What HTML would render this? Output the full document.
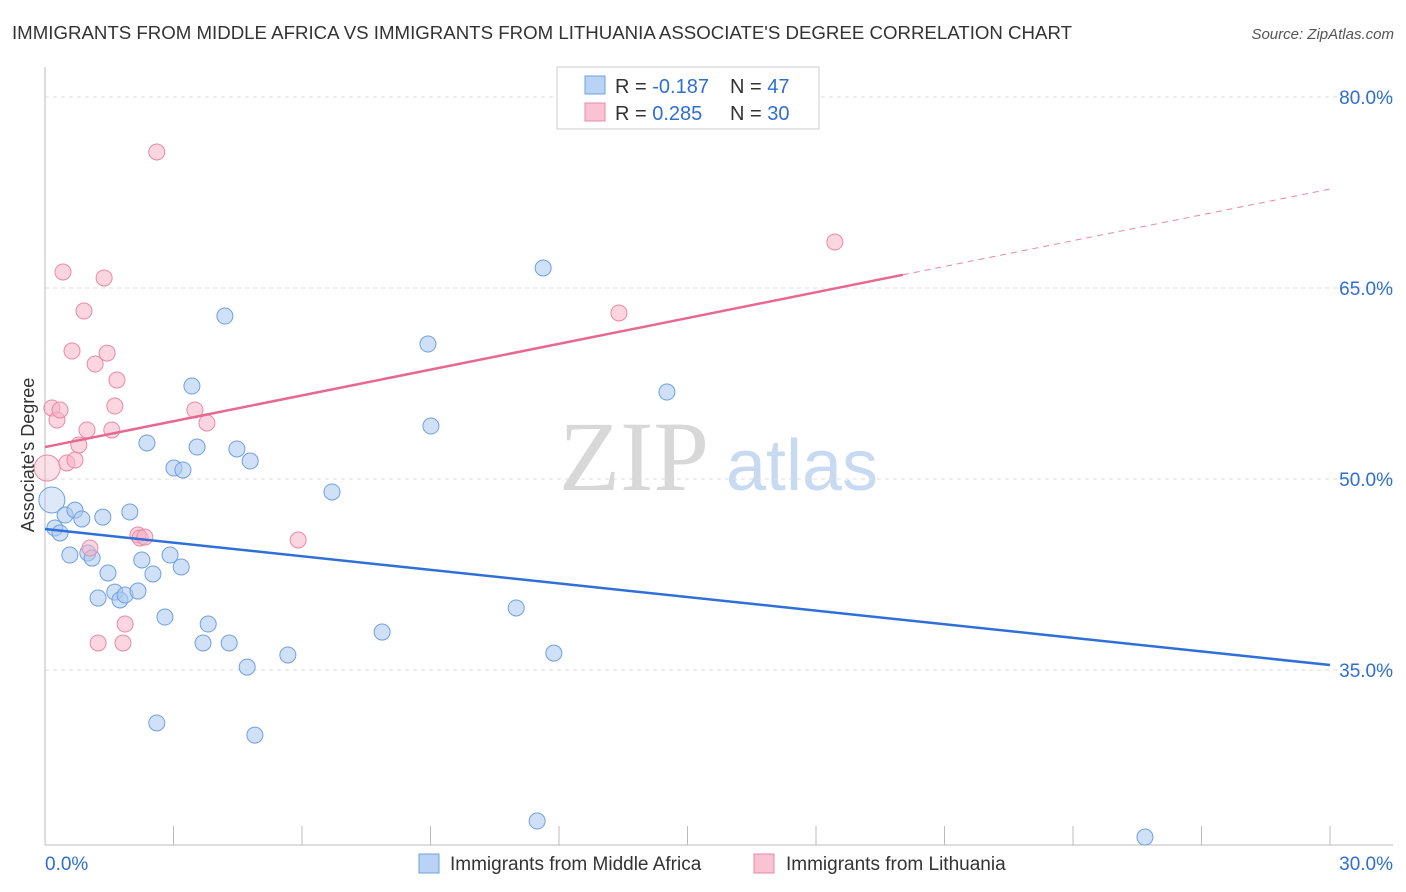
<!DOCTYPE html>
<html><head><meta charset="utf-8">
<style>
body{margin:0;background:#fff;font-family:"Liberation Sans",sans-serif;}
svg{display:block}
</style></head>
<body>
<svg id="chart" width="1406" height="892" font-family="Liberation Sans, sans-serif">
<text x="12" y="39" font-size="18" fill="#333" textLength="1060" lengthAdjust="spacingAndGlyphs">IMMIGRANTS FROM MIDDLE AFRICA VS IMMIGRANTS FROM LITHUANIA ASSOCIATE'S DEGREE CORRELATION CHART</text>
<text x="1394" y="39" font-size="15" fill="#555" font-style="italic" text-anchor="end">Source: ZipAtlas.com</text>
<g>
<text x="634" y="490" font-size="100" fill="#d8d8d8" font-family="Liberation Serif, serif" text-anchor="middle">ZIP</text>
<text x="802" y="490" font-size="72" fill="#c8daf2" text-anchor="middle">atlas</text>
</g>
<g id="grid"></g>
<g id="axes"></g>
<g id="marks"></g>
<g>
<rect x="557" y="67" width="262" height="62" fill="#fff" stroke="#ccc"/>
<rect x="585" y="76" width="20" height="18" fill="#b9d3f4" stroke="#6fa0e0"/>
<rect x="585" y="103" width="20" height="18" fill="#f9c3d3" stroke="#e88aa6"/>
<text x="615" y="93" font-size="20" fill="#333">R = <tspan fill="#2f6fd0">-0.187</tspan></text>
<text x="730" y="93" font-size="20" fill="#333">N = <tspan fill="#2f6fd0">47</tspan></text>
<text x="615" y="120" font-size="20" fill="#333">R = <tspan fill="#2f6fd0"> 0.285</tspan></text>
<text x="730" y="120" font-size="20" fill="#333">N = <tspan fill="#2f6fd0">30</tspan></text>
</g>
<text x="34" y="455" font-size="18" fill="#333" text-anchor="middle" transform="rotate(-90 34 455)">Associate's Degree</text>
<g>
<rect x="419" y="854" width="20" height="19" fill="#b9d3f4" stroke="#6fa0e0"/>
<text x="450" y="870" font-size="19" fill="#333">Immigrants from Middle Africa</text>
<rect x="754" y="854" width="20" height="19" fill="#f9c3d3" stroke="#e88aa6"/>
<text x="786" y="870" font-size="19" fill="#333">Immigrants from Lithuania</text>
</g>
</svg>
<script>
const blueX=[0.16,0.23,0.35,0.47,0.70,0.86,0.58,1.00,1.10,1.24,1.35,1.47,1.63,1.75,1.87,1.98,2.17,2.26,2.38,2.52,2.61,2.80,2.92,3.01,3.18,3.22,3.43,3.55,3.69,3.81,4.20,4.30,4.48,4.72,4.79,4.90,5.67,6.70,7.87,8.94,9.01,11.00,11.49,11.63,11.88,14.52,25.68];
const blueY=[48.35,46.15,45.76,47.17,47.56,46.86,44.03,44.19,43.79,40.65,47.01,42.62,41.12,40.50,40.89,47.41,41.20,43.64,52.83,42.54,30.84,39.16,44.03,50.86,43.09,50.71,57.30,52.51,37.12,38.61,62.80,37.12,52.36,35.23,51.41,29.89,36.18,48.98,37.98,60.60,54.16,39.87,23.14,66.57,36.33,56.83,21.88];
const pinkX=[0.05,0.16,0.28,0.35,0.42,0.51,0.63,0.70,0.79,0.91,0.98,1.05,1.17,1.24,1.38,1.45,1.56,1.63,1.68,1.87,1.82,2.17,2.22,2.33,2.61,3.50,3.78,5.91,13.40,18.44];
const pinkY=[50.86,55.58,54.63,55.42,66.26,51.26,60.05,51.49,52.67,63.19,53.85,44.58,59.03,37.12,65.79,59.89,53.85,55.73,57.77,38.61,37.12,45.60,45.37,45.44,75.68,55.42,54.40,45.21,63.04,68.61];
const blueTrend=[46.07,35.39]; // y at x=0 and x=30
const pinkTrend=[52.51,72.77]; // y at x=0 and x=30
const pinkSolidEnd=20.03;
const yTicks=[80,65,50,35];
const yTickLabels=["80.0%","65.0%","50.0%","35.0%"];
const xTickLabels=["0.0%","30.0%"];

const NS="http://www.w3.org/2000/svg";
const X=v=>45+v*1285/30;
const Y=v=>97+(80-v)*191/15;
function mk(tag,attrs,parent){const e=document.createElementNS(NS,tag);for(const k in attrs)e.setAttribute(k,attrs[k]);parent.appendChild(e);return e;}
const grid=document.getElementById('grid'),axes=document.getElementById('axes'),marks=document.getElementById('marks');
yTicks.forEach((t,i)=>{
 const l=mk('line',{x1:45,x2:1393,y1:Y(t),y2:Y(t),stroke:'#ddd','stroke-dasharray':'4,4'},grid);
 
 
 const tx=mk('text',{x:1393,y:Y(t)+7,'font-size':19,fill:'#2f6fd0','text-anchor':'end'},axes);
 tx.textContent=yTickLabels[i];
 
 
});
const ya=mk('line',{x1:45,x2:45,y1:67,y2:845,stroke:'#bbb'},axes);


const xa=mk('line',{x1:45,x2:1393,y1:845,y2:845,stroke:'#bbb'},axes);


for(let i=0;i<=10;i++){
 const t=mk('line',{x1:X(i*3),x2:X(i*3),y1:826,y2:845,stroke:'#bbb'},axes);
 
 
}
[[0,'start',45],[30,'end',1393]].forEach((d,i)=>{
 const tx=mk('text',{x:d[2],y:870,'font-size':19,fill:'#2f6fd0','text-anchor':d[1]},axes);
 tx.textContent=xTickLabels[i];
 
 
});
function dots(xs,ys,fill,stroke,name){
 xs.forEach((x,i)=>{
  const r=(i===0)?13:8;
  const op=(i===0)?0.4:0.55;
  const c=mk('circle',{cx:X(x),cy:Y(ys[i]),r:r,fill:fill,'fill-opacity':op,stroke:stroke,'stroke-width':1},marks);
  
  
 });
}
dots(blueX,blueY,'#a9c8f0','#6fa0e0','point-middle-africa');
dots(pinkX,pinkY,'#f7b3c7','#e88aa6','point-lithuania');
const bl=mk('line',{x1:X(0),y1:Y(blueTrend[0]),x2:X(30),y2:Y(blueTrend[1]),stroke:'#2f6fd8','stroke-width':2.5},marks);


const pAt=x=>pinkTrend[0]+(pinkTrend[1]-pinkTrend[0])*x/30;
const pl=mk('line',{x1:X(0),y1:Y(pAt(0)),x2:X(pinkSolidEnd),y2:Y(pAt(pinkSolidEnd)),stroke:'#e8688f','stroke-width':2.5},marks);


const pd=mk('line',{x1:X(pinkSolidEnd),y1:Y(pAt(pinkSolidEnd)),x2:X(30),y2:Y(pAt(30)),stroke:'#e8889f','stroke-width':1,'stroke-dasharray':'6,5'},marks);


</script>
</body></html>
